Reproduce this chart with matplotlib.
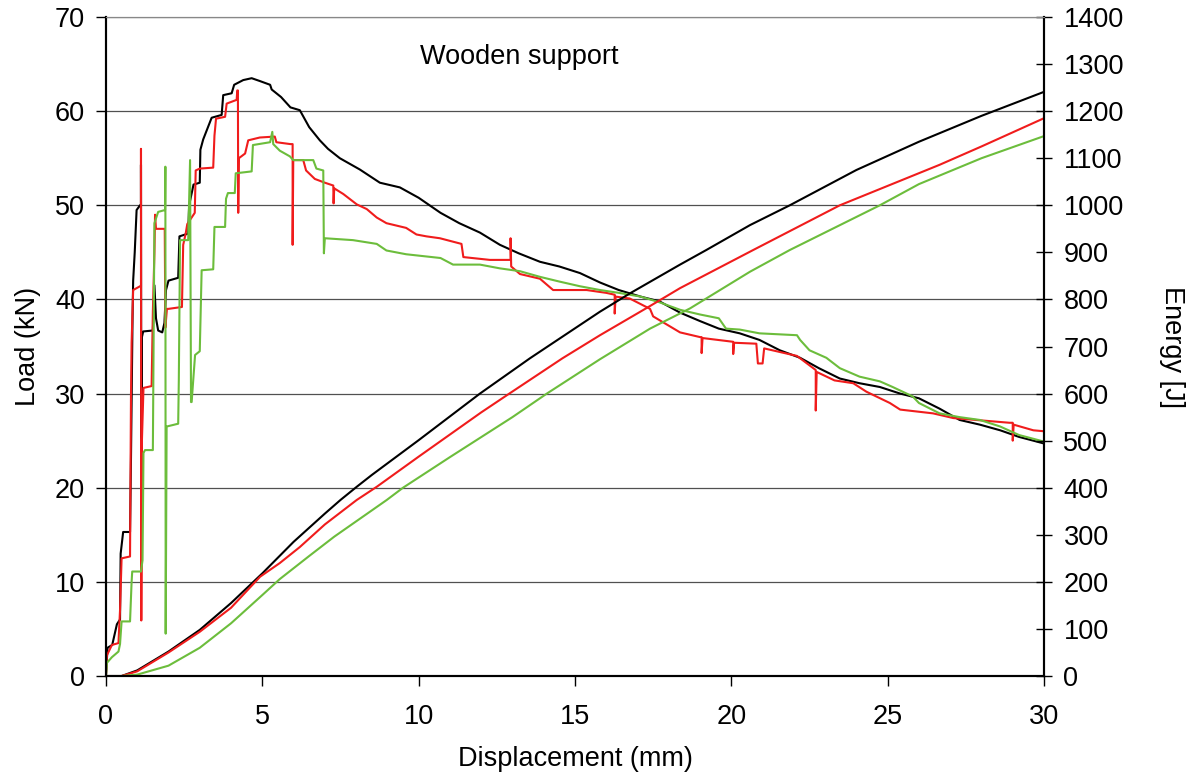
import matplotlib
matplotlib.use("Agg")
import matplotlib.pyplot as plt

plt.rcParams['font.family'] = ['Liberation Sans', 'DejaVu Sans']

# load curves (kN) vs displacement (mm)
black_x = [0, 0.05, 0.2, 0.35, 0.45, 0.47, 0.55, 0.77, 0.8, 0.85, 0.87, 0.92, 0.98, 1.09,
           1.12, 1.12, 1.13, 1.15, 1.19, 1.5, 1.55, 1.6, 1.67, 1.8, 1.87, 1.92, 2.0, 2.31,
           2.35, 2.63, 2.66, 2.8, 3.0, 3.02, 3.11, 3.38, 3.7, 3.75, 4.02, 4.1, 4.39, 4.66,
           4.92, 5.25, 5.3, 5.6, 5.9, 6.2, 6.5, 6.84, 7.1, 7.48, 8.12, 8.76, 9.4, 10.0,
           10.7, 11.3, 11.96, 12.6, 13.2, 13.88, 14.5, 15.16, 15.8, 16.4, 17.1, 17.7,
           18.36, 19.0, 19.6, 20.27, 20.9, 21.55, 22.2, 22.8, 23.47, 24.1, 24.75, 25.4,
           26.0, 26.66, 27.3, 27.95, 28.6, 29.2, 30]
black_load = [0, 3, 3.3, 5.5, 6, 13, 15.3, 15.3, 23, 38, 42, 45, 49.5, 50,
              50, 54.3, 19.8, 36, 36.6, 36.7, 41.5, 38, 36.7, 36.5, 37.5, 41, 42, 42.3,
              46.7, 47, 50, 52.2, 52.4, 55.9, 57, 59.3, 59.6, 61.7, 61.9, 62.8, 63.3, 63.5,
              63.2, 62.8, 62.3, 61.5, 60.4, 60.1, 58.3, 56.9, 56, 55.0, 53.8, 52.4, 51.9, 50.8,
              49.2, 48.1, 47.1, 45.8, 44.9, 44.0, 43.5, 42.8, 41.8, 41.0, 40.3, 39.8,
              38.6, 37.7, 36.9, 36.4, 35.7, 34.6, 33.8, 32.7, 31.6, 31.1, 30.7, 30.0,
              29.5, 28.4, 27.2, 26.7, 26.1, 25.4, 24.7]

red_x = [0, 0.03, 0.19, 0.4, 0.45, 0.5, 0.77, 0.8, 0.82, 0.87, 1.09, 1.12, 1.12, 1.13,
         1.15, 1.2, 1.46, 1.5, 1.55, 1.57, 1.6, 1.88, 1.9, 1.95, 2.0, 2.43, 2.47, 2.55,
         2.6, 2.8, 2.84, 2.87, 3.0, 3.43, 3.47, 3.52, 3.81, 3.86, 4.18, 4.2, 4.22, 4.23,
         4.25, 4.45, 4.55, 4.92, 5.4, 5.45, 5.9, 5.97, 5.97, 5.99, 6.31, 6.4, 6.68, 7.0,
         7.27, 7.28, 7.3, 7.59, 8.02, 8.34, 8.66, 8.97, 9.6, 9.93, 10.25, 10.68, 11.37,
         11.43, 12.28, 12.94, 12.94, 12.96, 13.24, 13.88, 14.3, 15.37, 16.0, 16.27, 16.27,
         16.3, 16.75, 17.4, 17.5, 18.36, 19.0, 19.05, 19.05, 19.08, 20.06, 20.06, 20.09,
         20.8, 20.85, 21.0, 21.05, 22.1, 22.7, 22.7, 22.73, 23.3, 23.9, 24.32, 25.07,
         25.4, 26.45, 27.1, 28.9, 29.0, 29.0, 29.03, 29.66, 30]
red_load = [0, 2.2, 3.3, 3.5, 7, 12.5, 12.7, 29.7, 35.4, 41, 41.4, 41.4, 56, 5.9,
            25, 30.6, 30.8, 38.7, 45, 49, 47.5, 47.5, 37, 39, 39, 39.2, 45.8, 47,
            48, 49, 49.2, 53.7, 53.9, 54, 57.4, 59.2, 59.4, 60.8, 61.2, 62.2, 62.2, 49.2,
            55, 55.5, 56.9, 57.2, 57.3, 56.7, 56.5, 56.5, 45.8, 54.8, 54.8, 53.7, 52.8, 52.4,
            52.1, 50.2, 51.8, 51.2, 50.1, 49.6, 48.7, 48.1, 47.6, 46.9, 46.7, 46.5, 45.9,
            44.5, 44.2, 44.2, 46.5, 43.5, 42.7, 42.2, 41.0, 41.0, 40.7, 40.5, 38.5,
            40.3, 40.1, 39.0, 38.2, 36.5, 36.0, 36.0, 34.3, 35.9, 35.5, 34.2, 35.4,
            35.3, 33.2, 33.2, 34.8, 34.0, 32.5, 28.2, 32.3, 31.4, 31.1, 30.2, 29.0,
            28.3, 27.9, 27.4, 26.9, 26.9, 25.0, 26.7, 26.1, 26.0]

green_x = [0, 0.03, 0.19, 0.4, 0.45, 0.5, 0.77, 0.82, 0.84, 1.12, 1.17, 1.2, 1.25, 1.5,
           1.55, 1.67, 1.89, 1.9, 1.91, 1.94, 2.31, 2.33, 2.37, 2.63, 2.69, 2.72, 2.74,
           2.85, 3.0, 3.06, 3.43, 3.47, 3.81, 3.84, 3.9, 4.12, 4.15, 4.66, 4.7, 5.25, 5.32,
           5.35, 5.56, 5.88, 5.99, 6.63, 6.73, 6.95, 6.97, 7.0, 7.9, 8.66, 8.97, 9.6, 10.7,
           11.1, 11.96, 12.6, 13.24, 13.88, 14.5, 15.16, 15.8, 16.4, 17.1, 17.7, 18.36,
           19.0, 19.6, 19.83, 20.27, 20.9, 22.1, 22.2, 22.5, 23.04, 23.47, 24.1, 24.75,
           25.16, 25.8, 26.0, 26.66, 27.3, 27.95, 28.6, 29.2, 30]
green_load = [0, 1.4, 2, 2.6, 3.4, 5.8, 5.8, 10, 11.1, 11.1, 12.3, 23.7, 24, 24,
              48.1, 49.3, 49.5, 54.1, 4.5, 26.5, 26.8, 31.4, 46.3, 46.3, 54.8, 29.1, 29.1,
              34.1, 34.5, 43.1, 43.2, 47.7, 47.7, 50.7, 51.3, 51.3, 53.4, 53.6, 56.4, 56.7, 57.8,
              56.5, 55.8, 55.2, 54.8, 54.8, 53.9, 53.7, 44.9, 46.5, 46.3, 45.9, 45.2, 44.8, 44.4,
              43.7, 43.7, 43.3, 43.0, 42.4, 41.9, 41.4, 41.0, 40.7, 40.3, 39.7, 38.9,
              38.4, 38.0, 36.9, 36.8, 36.4, 36.2, 35.7, 34.6, 33.8, 32.7, 31.8, 31.3,
              30.7, 29.7, 29.0, 27.9, 27.5, 27.2, 26.5, 25.6, 24.9]

# energy curves (J)
black_ex = [0, 0.5, 1, 2, 3, 4, 5, 6, 7, 7.5, 8.02, 8.5, 10, 11.96, 13.56, 15.8, 16.76,
            18.36, 19.2, 20.6, 21.87, 24, 26, 28, 30]
black_energy = [0, 0, 12, 52, 98, 155, 218, 285, 345, 374, 402, 427, 501, 600, 675, 774, 813,
                874, 905, 958, 1000, 1075, 1135, 1190, 1241]
red_ex = [0, 0.5, 1, 2, 3, 4, 4.93, 5.56, 6.2, 7, 8.02, 8.66, 10, 12, 12.9, 14.6, 15.8,
          17.4, 18.36, 20.7, 23.47, 26.66, 28, 30]
red_energy = [0, 0, 10, 50, 94, 145, 211, 240, 274, 322, 374, 402, 466, 560, 600, 675, 724,
              786, 824, 905, 1000, 1086, 1125, 1185]
green_ex = [0, 0.5, 1, 2, 3, 4, 5, 5.56, 6.5, 7.3, 8.98, 9.5, 11, 13, 14.1, 15.8, 17.4,
            18.68, 20.6, 21.87, 24.75, 26, 28, 30]
green_energy = [0, 0, 3, 22, 60, 112, 172, 206, 255, 296, 374, 400, 465, 550, 600, 673, 738,
                781, 859, 905, 1000, 1045, 1100, 1147]

RED = '#f01c1c'
GREEN = '#6cbd3c'

fig = plt.figure(figsize=(12, 7.8), dpi=100)
ax = fig.add_axes([0.0883, 0.1333, 0.7817, 0.8449])
ax2 = ax.twinx()

ax.plot(black_x, black_load, color='black', lw=1.5)
ax.plot(red_x, red_load, color=RED, lw=1.5)
ax.plot(green_x, green_load, color=GREEN, lw=1.5)

ax2.plot(black_ex, black_energy, color='black', lw=1.5)
ax2.plot(red_ex, red_energy, color=RED, lw=1.5)
ax2.plot(green_ex, green_energy, color=GREEN, lw=1.5)

ax.set_xlim(0, 30)
ax.set_ylim(0, 70)
ax2.set_ylim(0, 1400)
ax.set_xticks(range(0, 31, 5))
ax.set_yticks(range(0, 71, 10))
ax2.set_yticks(range(0, 1401, 100))

ax.yaxis.grid(True, color='#505050', lw=0.9)
ax.set_axisbelow(True)

for a in (ax, ax2):
    a.spines['top'].set_color('#888888')
    for s in ('left', 'bottom', 'right'):
        a.spines[s].set_linewidth(1.5)

FS = 19.5
ax.tick_params(axis='x', direction='out', length=7, width=1, labelsize=FS, pad=13)
ax.tick_params(axis='y', direction='out', length=7, width=1, labelsize=FS, pad=8)
ax2.tick_params(axis='y', direction='inout', length=12, width=1, labelsize=FS, pad=8)

ax.set_xlabel('Displacement (mm)', fontsize=FS, labelpad=12)
ax.set_ylabel('Load (kN)', fontsize=FS, labelpad=10)
ax2.set_ylabel('Energy [J]', fontsize=FS, rotation=-90, labelpad=44)

ax.text(0.441, 0.939, 'Wooden support', transform=ax.transAxes, fontsize=FS,
        ha='center', va='center')

fig.savefig('out.png', dpi=100)
